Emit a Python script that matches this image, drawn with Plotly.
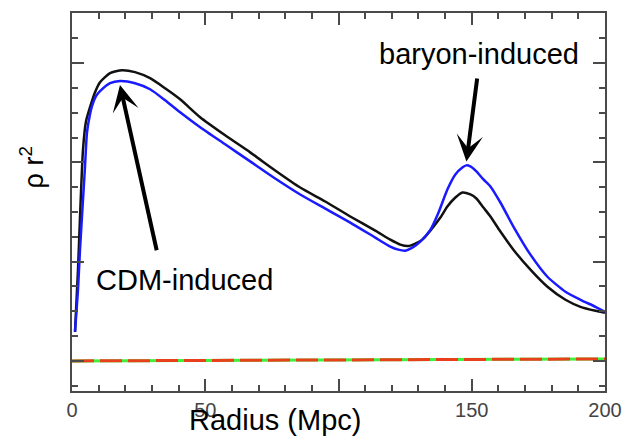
import plotly.graph_objects as go

# Total correlation function (rho r^2) vs radius, two models
r_black = [1.13, 2.25, 3.00, 4.13, 5.26, 6.76, 8.64, 10.52, 14.27, 18.78, 23.66, 29.30,
           34.93, 40.56, 48.08, 57.46, 66.85, 76.24, 85.63, 95.02, 104.41, 113.80,
           119.44, 123.19, 126.20, 128.83, 131.46, 134.46, 138.22, 140.85, 143.85,
           146.48, 149.48, 151.74, 154.37, 157.00, 160.75, 165.63, 172.02, 178.40,
           185.16, 190.80, 196.43, 200.0]
v_black = [0.293, 0.919, 1.444, 2.131, 2.414, 2.556, 2.707, 2.808, 2.899, 2.929, 2.909, 2.848,
           2.747, 2.636, 2.455, 2.273, 2.101, 1.919, 1.747, 1.606, 1.455, 1.313,
           1.222, 1.172, 1.157, 1.182, 1.222, 1.313, 1.444, 1.556, 1.646,
           1.697, 1.677, 1.636, 1.545, 1.455, 1.303, 1.121, 0.919, 0.747,
           0.616, 0.545, 0.505, 0.485]

r_blue = [1.13, 2.25, 3.00, 4.13, 4.88, 5.63, 6.76, 7.51, 9.01, 10.52, 14.27, 18.03, 23.66,
          29.30, 34.93, 40.56, 48.08, 57.46, 66.85, 76.24, 85.63, 95.02, 104.41, 113.80,
          119.44, 122.44, 125.07, 127.70, 130.70, 134.46, 137.46, 140.85, 143.85,
          146.48, 147.98, 149.48, 151.74, 154.37, 157.00, 160.75, 165.63, 172.02,
          178.40, 185.16, 190.80, 196.43, 200.0]
v_blue = [0.293, 0.717, 1.121, 1.626, 1.960, 2.303, 2.485, 2.566, 2.667, 2.717, 2.798, 2.821, 2.798,
          2.737, 2.626, 2.505, 2.354, 2.182, 2.010, 1.838, 1.677, 1.535, 1.394, 1.242,
          1.152, 1.121, 1.111, 1.141, 1.202, 1.320, 1.490, 1.727, 1.879,
          1.949, 1.970, 1.960, 1.909, 1.828, 1.758, 1.596, 1.354, 1.071,
          0.848, 0.697, 0.616, 0.545, 0.495]

# Near-zero baseline model
r_flat = [0.0, 200.0]
v_flat = [0.0, 0.02]

x_tickvals = [0, 50, 100, 150, 200]
x_ticktext = ["0", "50", "", "150", "200"]

FONT = "Liberation Sans, Arial, sans-serif"
AXIS_COLOR = "#4a4a4a"

fig = go.Figure()

fig.add_trace(go.Scatter(x=r_flat, y=v_flat, mode="lines",
                         line=dict(color="#3ef03a", width=3), hoverinfo="skip"))
fig.add_trace(go.Scatter(x=r_flat, y=v_flat, mode="lines",
                         line=dict(color="#e8401c", width=3, dash="22px,6px"),
                         hoverinfo="skip"))
fig.add_trace(go.Scatter(x=r_black, y=v_black, mode="lines",
                         line=dict(color="#111111", width=2.5, shape="spline", smoothing=0.6)))
fig.add_trace(go.Scatter(x=r_blue, y=v_blue, mode="lines",
                         line=dict(color="#1a1aff", width=2.5, shape="spline", smoothing=0.6)))

# Arrows pointing to the two features
arrow_common = dict(text="", showarrow=True, arrowhead=3, arrowsize=1.1, arrowwidth=4,
                    arrowcolor="black", axref="x", ayref="y", xref="x", yref="y",
                    standoff=0)
fig.add_annotation(x=18.0, y=2.78, ax=31.9, ay=1.10, **arrow_common)
fig.add_annotation(x=148.0, y=2.01, ax=152.1, ay=2.86, **arrow_common)

label_font = dict(family=FONT, size=29, color="black")
fig.add_annotation(x=42.1, y=0.82, text="CDM-induced", showarrow=False,
                   font=label_font, xanchor="center", yanchor="middle")
fig.add_annotation(x=152.8, y=3.09, text="baryon-induced", showarrow=False,
                   font=label_font, xanchor="center", yanchor="middle")

# Axis titles
fig.add_annotation(xref="paper", yref="paper", x=0.381, y=-0.077, text="Radius (Mpc)",
                   showarrow=False, font=label_font, xanchor="center", yanchor="middle")
fig.add_annotation(xref="paper", yref="y", x=-0.075, y=1.95, text="ρ r<sup>2</sup>",
                   showarrow=False, textangle=-90, font=dict(family=FONT, size=27, color="black"),
                   xanchor="center", yanchor="middle")

fig.update_xaxes(range=[0, 200], showline=True, linecolor=AXIS_COLOR, linewidth=2,
                 mirror="ticks", ticks="inside", ticklen=12, tickwidth=1.5,
                 tickcolor=AXIS_COLOR, tickvals=x_tickvals, ticktext=x_ticktext,
                 tickfont=dict(family=FONT, size=20, color="#444444"),
                 minor=dict(ticks="inside", ticklen=6, dtick=10, tickwidth=1.5,
                            tickcolor=AXIS_COLOR),
                 showgrid=False, zeroline=False, automargin=False)
fig.update_yaxes(range=[-0.303, 3.505], showline=True, linecolor=AXIS_COLOR, linewidth=2,
                 mirror="ticks", ticks="inside", ticklen=12, tickwidth=1.5,
                 tickcolor=AXIS_COLOR, dtick=1, tick0=0, showticklabels=False,
                 minor=dict(ticks="inside", ticklen=6, dtick=0.25, tickwidth=1.5,
                            tickcolor=AXIS_COLOR),
                 showgrid=False, zeroline=False, automargin=False)

fig.update_layout(width=624, height=438, showlegend=False,
                  margin=dict(l=72, r=19, t=13, b=47),
                  plot_bgcolor="white", paper_bgcolor="white",
                  font=dict(family=FONT))

fig.write_html("out.html")
